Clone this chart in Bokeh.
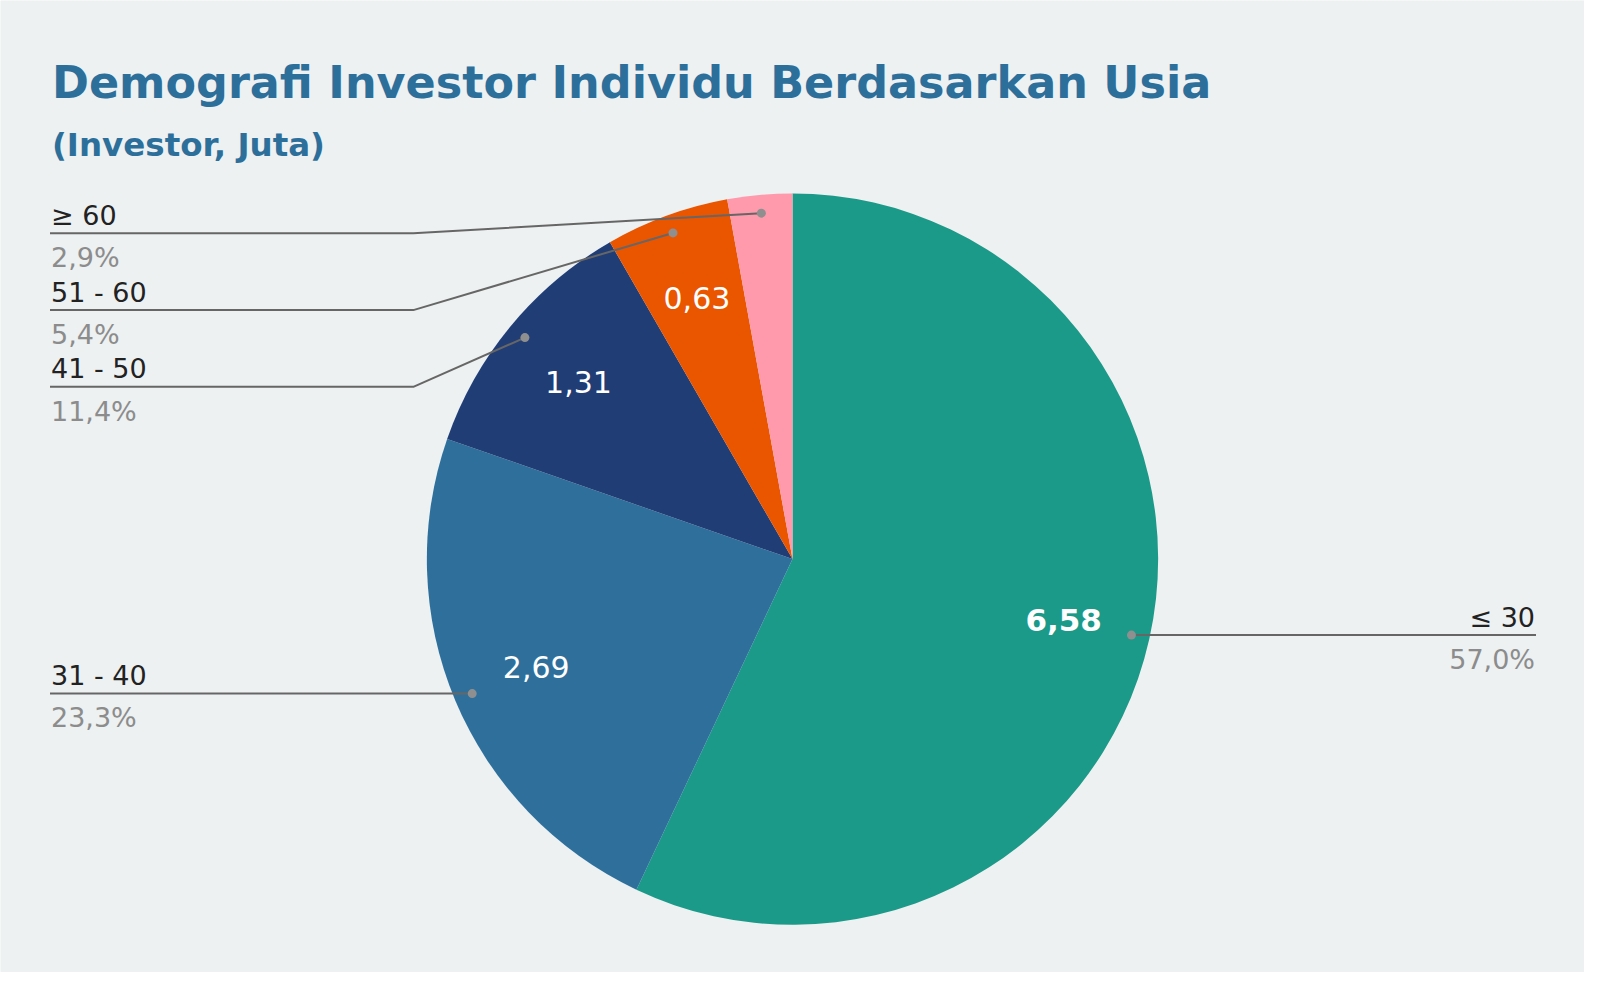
import numpy as np
from bokeh.plotting import figure
from bokeh.models import Range1d
from bokeh.embed import file_html
from bokeh.resources import INLINE
from bokeh.core.properties import value

# ---------------- data ----------------
title_text = "Demografi Investor Individu Berdasarkan Usia"
subtitle_text = "(Investor, Juta)"
categories = ["≤ 30", "31 - 40", "41 - 50", "51 - 60", "≥ 60"]
values = [6.58, 2.69, 1.31, 0.63, 0.33]
value_labels = ["6,58", "2,69", "1,31", "0,63", ""]
pct_labels = ["57,0%", "23,3%", "11,4%", "5,4%", "2,9%"]
colors = ["#1b9a89", "#2e709b", "#203d75", "#ea5500", "#ff99ac"]

# ---------------- layout ----------------
W, H = 1584, 972
BG = "#edf1f2"
FONT = "DejaVu Sans"
SX, SY = W / 1600.0, H / 988.0   # reference-page px -> figure px
BASE_FIX = 0.3                   # baseline correction (fraction of font size)


def FX(sx):
    return sx * SX


def FY(sy):  # reference-page y -> data y (y up)
    return H - sy * SY


cx, cy = 800.0 * SX, 567.8 * SY     # in figure px (y down)
R = 370.5 * (SX + SY) / 2

p = figure(width=W, height=H, output_backend="svg", toolbar_location=None,
           x_range=Range1d(0, W), y_range=Range1d(0, H),
           min_border=0, x_axis_type=None, y_axis_type=None,
           background_fill_color=BG, border_fill_color=BG, outline_line_color=None)
p.grid.visible = False

vals = np.array(values, dtype=float)
frac = vals / vals.sum()
cum = np.concatenate([[0.0], np.cumsum(frac)])
start = np.pi / 2 - 2 * np.pi * cum[:-1]
end = np.pi / 2 - 2 * np.pi * cum[1:]
mid = (start + end) / 2

p.wedge(x=[cx] * len(vals), y=[H - cy] * len(vals), radius=R,
        start_angle=start, end_angle=end, direction="clock",
        fill_color=colors, line_color=None)

# inner value labels
imax = int(np.argmax(vals))
for i, lab in enumerate(value_labels):
    if not lab:
        continue
    lx = cx + 0.76 * R * np.cos(mid[i])
    ly = (H - cy) + 0.76 * R * np.sin(mid[i])
    p.text(x=[lx], y=[ly], text=[lab], text_color="white",
           text_font=value(FONT), text_font_size="31px" if i == imax else "30px",
           text_font_style="bold" if i == imax else "normal",
           text_align="center", text_baseline="middle")

# leader lines + outer labels (figure px, y down)
dot_x = cx + 0.95 * R * np.cos(mid)
dot_y = cy - 0.95 * R * np.sin(mid)
left_idx = [i for i in range(len(vals)) if np.cos(mid[i]) < 0]
right_idx = [i for i in range(len(vals)) if np.cos(mid[i]) >= 0]

LEFT_X, RIGHT_X = 50.0 * SX, 1551.0 * SX
ELBOW_L = 417.0 * SX
STEP, TOP_MIN = 78.0 * SY, 236.7 * SY
LINE_COL, DOT_COL = "#666666", "#8f8f8f"
LAB_COL, PCT_COL = "#222222", "#8c8c8c"
LAB_SIZE = 27

line_y = {}
for side in (left_idx, right_idx):
    prev = -1e9
    for i in sorted(side, key=lambda k: dot_y[k]):
        ly = max(dot_y[i], prev + STEP, TOP_MIN)
        line_y[i] = ly
        prev = ly

for i in range(len(vals)):
    ly = line_y[i]
    if i in left_idx:
        xs = [dot_x[i], ELBOW_L, LEFT_X]
        ys = [H - dot_y[i], H - ly, H - ly]
        tx, align = LEFT_X + 1, "left"
    else:
        xs = [dot_x[i], RIGHT_X]
        ys = [H - dot_y[i], H - ly]
        tx, align = RIGHT_X - 1, "right"
    p.line(x=xs, y=ys, line_color=LINE_COL, line_width=2)
    p.scatter(x=[dot_x[i]], y=[H - dot_y[i]], size=9, fill_color=DOT_COL,
              line_color=None)
    fix = BASE_FIX * LAB_SIZE
    p.text(x=[tx], y=[H - (ly - 9.8 - fix)], text=[categories[i]], text_color=LAB_COL,
           text_font=value(FONT), text_font_size="%dpx" % LAB_SIZE, text_align=align,
           text_baseline="alphabetic")
    p.text(x=[tx], y=[H - (ly + 32.5 - fix)], text=[pct_labels[i]], text_color=PCT_COL,
           text_font=value(FONT), text_font_size="%dpx" % LAB_SIZE, text_align=align,
           text_baseline="alphabetic")

# titles
p.text(x=[FX(52)], y=[FY(97) + BASE_FIX * 44.5], text=[title_text], text_color="#2d6f9b",
       text_font=value(FONT), text_font_size="44.5px", text_font_style="bold",
       text_baseline="alphabetic")
p.text(x=[FX(52)], y=[FY(157) + BASE_FIX * 32.5], text=[subtitle_text], text_color="#2d6f9b",
       text_font=value(FONT), text_font_size="32.5px", text_font_style="bold",
       text_baseline="alphabetic")

html = file_html(p, INLINE)
html = html.replace("<body>", "<body style=\"margin:8px;background:%s\">" % BG, 1)
open("out.html", "w").write(html)
